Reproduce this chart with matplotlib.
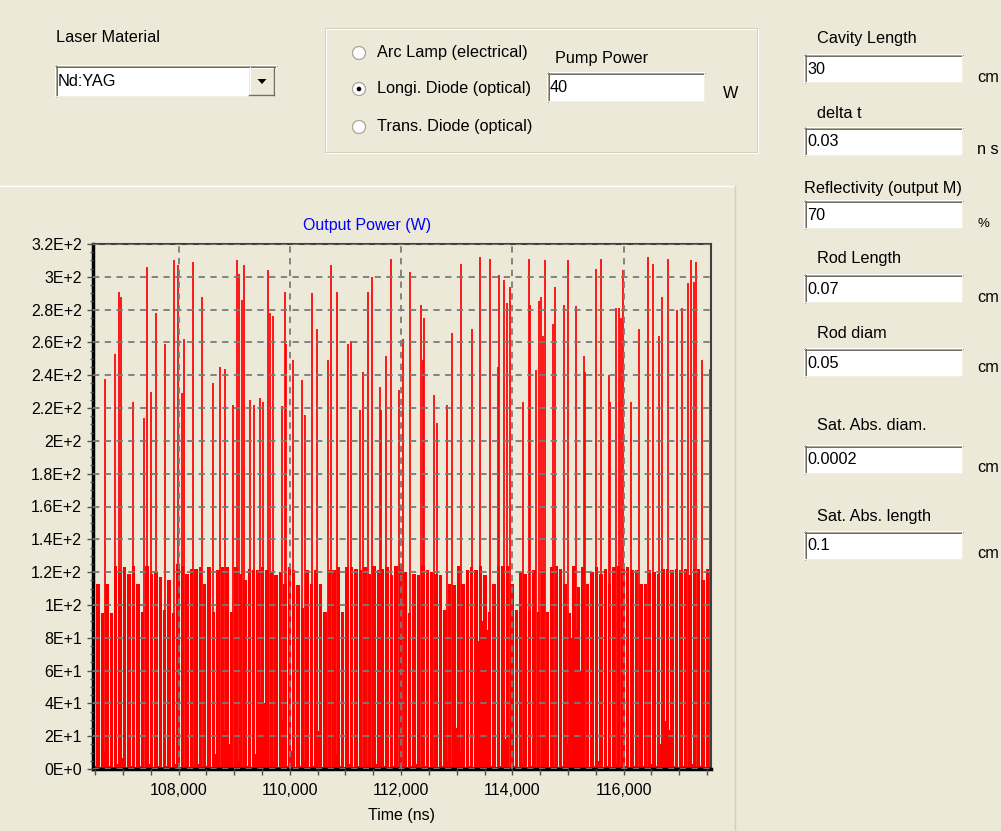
import numpy as np
import matplotlib
matplotlib.use('Agg')
import matplotlib.pyplot as plt
from matplotlib.patches import Rectangle, Circle, Polygon

# ---------------------------------------------------------------
# data
# ---------------------------------------------------------------
# tall pulses : time (ns) and peak power (W)
spike_t = [106485, 106682, 106850, 106934, 106964, 107180, 107371, 107431, 107509, 107599,
           107761, 107923, 107983, 108061, 108090, 108252, 108420, 108618, 108750, 108840,
           108977, 109049, 109079, 109139, 109169, 109277, 109361, 109469, 109517, 109607,
           109637, 109690, 109858, 109906, 109936, 110050, 110212, 110271, 110403, 110487,
           110679, 110739, 110847, 111039, 111098, 111266, 111314, 111398, 111482, 111614,
           111644, 111728, 111818, 111955, 112033, 112165, 112363, 112393, 112417, 112584,
           112644, 112830, 112914, 113082, 113274, 113411, 113603, 113741, 113765, 113855,
           113909, 113963, 114184, 114292, 114316, 114430, 114484, 114514, 114544, 114592,
           114730, 114760, 114921, 115005, 115149, 115281, 115305, 115509, 115593, 115730,
           115748, 115868, 115916, 115952, 115982, 116138, 116276, 116437, 116521, 116641,
           116689, 116797, 116959, 117049, 117156, 117210, 117264, 117294, 117408, 117546]
spike_h = [284, 238, 253, 291, 288, 224, 214, 306, 230, 278,
           259, 310, 307, 229, 262, 309, 288, 235, 245, 244,
           222, 310, 302, 286, 307, 225, 222, 226, 224, 304,
           278, 276, 221, 291, 259, 249, 237, 216, 290, 268,
           249, 307, 291, 259, 261, 219, 242, 291, 300, 233,
           219, 252, 311, 231, 262, 303, 283, 249, 275, 228,
           211, 222, 266, 308, 268, 312, 311, 245, 301, 298,
           284, 294, 224, 311, 283, 243, 285, 288, 264, 310,
           271, 294, 283, 310, 282, 252, 242, 305, 311, 240,
           224, 281, 281, 275, 304, 224, 268, 312, 308, 264,
           288, 311, 280, 281, 296, 310, 297, 309, 249, 244]

# regular pulse band : start, sample step (ns), peak and trough level (W)
band_t0 = 106470
band_dt = 80
band_peak = [118, 113, 95, 113, 95, 124, 121, 123, 119, 124,
             113, 96, 124, 119, 120, 117, 97, 115, 95, 125,
             124, 119, 122, 122, 123, 113, 123, 96, 121, 123,
             123, 96, 123, 119, 115, 122, 121, 121, 123, 121,
             120, 118, 120, 113, 123, 121, 112, 98, 121, 113,
             121, 113, 96, 121, 121, 123, 96, 123, 123, 122,
             121, 123, 119, 124, 121, 122, 123, 118, 124, 125,
             120, 95, 119, 118, 124, 121, 120, 119, 118, 97,
             113, 112, 124, 113, 121, 123, 121, 124, 118, 96,
             113, 123, 124, 124, 113, 97, 120, 119, 97, 121,
             96, 121, 96, 123, 124, 122, 113, 95, 124, 111,
             123, 113, 120, 123, 119, 122, 113, 123, 124, 122,
             123, 121, 121, 113, 113, 121, 120, 119, 122, 122,
             121, 122, 121, 122, 118, 122, 122, 115, 122]
band_trough = [2, 1, 11, 2, 1, 3, 7, 1, 2, 1,
               2, 1, 3, 1, 2, 1, 2, 1, 3, 1,
               2, 1, 1, 3, 1, 2, 1, 9, 2, 23,
               15, 2, 5, 1, 2, 1, 9, 42, 40, 2,
               5, 1, 30, 2, 11, 1, 2, 5, 1, 2,
               23, 1, 2, 1, 9, 2, 1, 3, 1, 2,
               1, 2, 1, 3, 1, 2, 1, 2, 1, 2,
               1, 2, 3, 1, 2, 1, 2, 1, 2, 5,
               2, 25, 11, 1, 2, 1, 78, 90, 85, 2,
               1, 2, 18, 1, 2, 1, 3, 1, 2, 1,
               2, 18, 1, 2, 1, 2, 15, 80, 85, 60,
               2, 1, 2, 5, 1, 2, 1, 3, 1, 2,
               1, 2, 1, 2, 1, 3, 2, 15, 29, 24,
               2, 1, 2, 1, 3, 1, 2, 1, 2]

x_major = [108000, 110000, 112000, 114000, 116000]
x_labels = ['108,000', '110,000', '112,000', '114,000', '116,000']
y_major = [0, 20, 40, 60, 80, 100, 120, 140, 160, 180, 200, 220, 240, 260, 280, 300, 320]
y_labels = ['0E+0', '2E+1', '4E+1', '6E+1', '8E+1', '1E+2', '1.2E+2', '1.4E+2', '1.6E+2',
            '1.8E+2', '2E+2', '2.2E+2', '2.4E+2', '2.6E+2', '2.8E+2', '3E+2', '3.2E+2']

# dialog fields
radio_labels = ['Arc Lamp (electrical)', 'Longi. Diode (optical)', 'Trans. Diode (optical)']
radio_selected = 1
field_labels = ['Cavity Length', 'delta t', 'Reflectivity (output M)', 'Rod Length',
                'Rod diam', 'Sat. Abs. diam.', 'Sat. Abs. length']
field_values = ['30', '0.03', '70', '0.07', '0.05', '0.0002', '0.1']
field_units = ['cm', 'n s', '%', 'cm', 'cm', 'cm', 'cm']

# ---------------------------------------------------------------
BG = '#ECE9D8'
FONT = 'Liberation Sans'
FS = 11.7
W, H = 1001, 831

fig = plt.figure(figsize=(W / 100., H / 100.), dpi=100, facecolor=BG)

# pixel overlay for the dialog widgets
ui = fig.add_axes([0, 0, 1, 1], zorder=0)
ui.set_xlim(0, W)
ui.set_ylim(H, 0)
ui.axis('off')

px = 0.72  # one pixel in points


def label(x, y, s, ha='left', size=FS, color='black'):
    ui.text(x, y, s, ha=ha, va='center', fontsize=size, family=FONT, color=color)


def edit_box(x0, y0, x1, y1, s):
    ui.add_patch(Rectangle((x0, y0), x1 - x0, y1 - y0, facecolor='white', edgecolor='none'))
    ui.plot([x0, x1], [y0 + 0.5, y0 + 0.5], color='#ACA899', lw=px)
    ui.plot([x0 + 0.5, x0 + 0.5], [y0, y1], color='#ACA899', lw=px)
    ui.plot([x0 + 1, x1 - 1], [y0 + 1.5, y0 + 1.5], color='#716F64', lw=px)
    ui.plot([x0 + 1.5, x0 + 1.5], [y0 + 1, y1 - 1], color='#716F64', lw=px)
    ui.plot([x0 + 1, x1 - 1], [y1 - 1.5, y1 - 1.5], color='#F1EFE2', lw=px)
    ui.plot([x1 - 1.5, x1 - 1.5], [y0 + 1, y1 - 1], color='#F1EFE2', lw=px)
    label(x0 + 3, (y0 + y1) / 2. + 0.5, s)


# laser material combo
label(56, 38, 'Laser Material')
edit_box(55, 65, 277, 97, 'Nd:YAG')
ui.add_patch(Rectangle((249, 67), 25, 28, facecolor=BG, edgecolor='none'))
ui.plot([249, 274], [67.5, 67.5], color='white', lw=px)
ui.plot([249.5, 249.5], [67, 95], color='white', lw=px)
ui.plot([249, 274], [94.5, 94.5], color='#716F64', lw=1.4 * px)
ui.plot([273.5, 273.5], [67, 95], color='#716F64', lw=1.4 * px)
ui.add_patch(Polygon([[257.5, 79], [266.5, 79], [262, 84]], closed=True,
                     facecolor='black', edgecolor='none'))

# pump group box
ui.add_patch(Rectangle((326, 29), 432, 124, facecolor='none', edgecolor='white', lw=px))
ui.add_patch(Rectangle((325, 28), 432, 124, facecolor='none', edgecolor='#D0D0BF', lw=px))
for i, s in enumerate(radio_labels):
    yc = [53, 89, 127][i]
    ui.add_patch(Circle((359, yc), 6.5, facecolor='white', edgecolor='#ACA899', lw=1.3 * px))
    if i == radio_selected:
        ui.add_patch(Circle((359, yc), 2.3, facecolor='black', edgecolor='none'))
    label(377, yc, s)
label(555, 58, 'Pump Power')
edit_box(547, 72, 705, 102, '40')
label(731, 93, 'W', ha='center')

# right column of fields
lab_y = [39, 113, 188, 259, 333, 426, 516]
box_y = [54, 127, 200, 274, 348, 445, 531]
unit_y = [77, 150, 224, 297, 368, 467, 554]
for i in range(len(field_labels)):
    lx = 804 if field_labels[i].startswith('Reflectivity') else 817
    label(lx, lab_y[i], field_labels[i])
    edit_box(804, box_y[i], 963, box_y[i] + 29, field_values[i])
    label(977, unit_y[i], field_units[i], size=FS if field_units[i] != '%' else 9.5)

# chart panel edges
ui.plot([0, 735], [186, 186], color='white', lw=1.4 * px)
ui.plot([735, 735], [186, H], color='#D0D0BF', lw=1.4 * px)

# ---------------------------------------------------------------
# chart
# ---------------------------------------------------------------
ax = fig.add_axes([93. / W, 1 - 769. / H, 618. / W, 525. / H], zorder=1)
ax.set_facecolor(BG)

band_t = band_t0 + band_dt * np.arange(len(band_peak))
ax.bar(band_t, band_peak, width=62, color='red', lw=0, zorder=1.4)
ax.bar(band_t + band_dt / 2., band_trough, width=30, color='red', lw=0, zorder=1.4)
ax.vlines(spike_t, 0, spike_h, color='red', lw=1.25, zorder=1.6)

ax.set_xlim(106461, 117571)
ax.set_ylim(0, 320)
ax.set_xticks(x_major)
ax.set_xticklabels(x_labels, family=FONT, fontsize=11.5)
ax.set_xticks(np.arange(106500, 117501, 500), minor=True)
ax.set_yticks(y_major)
ax.set_yticklabels(y_labels, family=FONT, fontsize=11.5)
ax.set_yticks(np.arange(0, 321, 5), minor=True)
ax.tick_params(which='both', direction='out', color='#505050', width=1.0)
ax.tick_params(axis='x', which='both', length=4, pad=6)
ax.tick_params(axis='y', which='major', length=4, pad=4)
ax.tick_params(axis='y', which='minor', length=2.5)

ax.set_axisbelow(False)
ax.grid(True, which='major', color='#7A7A7A', ls=(0, (3.5, 3)), lw=1.3)

for side in ['left', 'bottom']:
    ax.spines[side].set_linewidth(2.5)
    ax.spines[side].set_color('black')
for side in ['top', 'right']:
    ax.spines[side].set_linewidth(1.5)
    ax.spines[side].set_color('#404040')

ax.set_title('Output Power (W)', color='blue', family=FONT, fontsize=11.5,
             x=(367 - 93) / 618., pad=10)
ax.set_xlabel('Time (ns)', family=FONT, fontsize=11.5, labelpad=7)

fig.savefig('out.png', dpi=100, facecolor=BG)
